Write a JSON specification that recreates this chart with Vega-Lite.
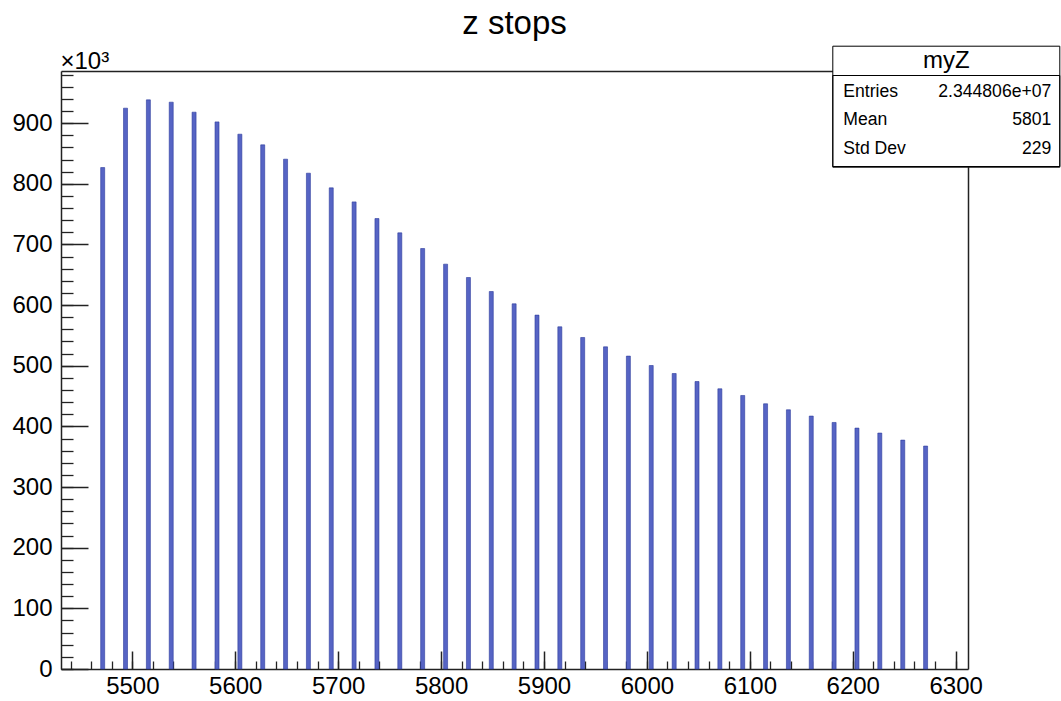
{
  "$schema": "https://vega.github.io/schema/vega-lite/v6.json",
  "width": 907,
  "height": 598,
  "autosize": {"type": "none"},
  "padding": {"left": 61, "top": 71, "right": 93, "bottom": 32},
  "background": "white",
  "config": {"font": "Liberation Sans", "view": {"stroke": null}, "scale": {"continuousPadding": 0}},
  "title": {"text": "z stops", "fontSize": 33, "fontWeight": "normal", "color": "black", "anchor": "middle", "frame": "group", "offset": -22, "baseline": "alphabetic"},
  "datasets": {
    "hist": [
      {"z": 5471.2, "n": 826800}, {"z": 5493.4, "n": 924700}, {"z": 5515.6, "n": 938400},
      {"z": 5537.8, "n": 934600}, {"z": 5560.0, "n": 918100}, {"z": 5582.3, "n": 902100},
      {"z": 5604.5, "n": 881800}, {"z": 5626.7, "n": 864200}, {"z": 5648.9, "n": 840600},
      {"z": 5671.1, "n": 817500}, {"z": 5693.3, "n": 793300}, {"z": 5715.5, "n": 770200},
      {"z": 5737.7, "n": 742700}, {"z": 5759.9, "n": 719100}, {"z": 5782.1, "n": 693300},
      {"z": 5804.4, "n": 667500}, {"z": 5826.6, "n": 645500}, {"z": 5848.8, "n": 622400},
      {"z": 5871.0, "n": 602100}, {"z": 5893.2, "n": 583500}, {"z": 5915.4, "n": 564200},
      {"z": 5937.6, "n": 546600}, {"z": 5959.8, "n": 531200}, {"z": 5982.0, "n": 515900},
      {"z": 6004.2, "n": 500400}, {"z": 6026.5, "n": 487200}, {"z": 6048.7, "n": 474000},
      {"z": 6070.9, "n": 462000}, {"z": 6093.1, "n": 451000}, {"z": 6115.3, "n": 437300},
      {"z": 6137.5, "n": 427400}, {"z": 6159.7, "n": 417000}, {"z": 6181.9, "n": 406500},
      {"z": 6204.1, "n": 397200}, {"z": 6226.3, "n": 389000}, {"z": 6248.6, "n": 377400},
      {"z": 6270.8, "n": 367600}
    ],
    "stats": [
      {"stat": "Entries", "val": "2.344806e+07"},
      {"stat": "Mean", "val": "5801"},
      {"stat": "Std Dev", "val": "229"}
    ]
  },
  "layer": [
    {
      "data": {"name": "hist"},
      "mark": {"type": "point", "opacity": 0},
      "encoding": {
        "x": {"field": "z", "type": "quantitative", "scale": {"domain": [5430.7, 6312], "nice": false, "zero": false, "padding": 0},
          "axis": {"orient": "bottom", "values": [5440,5460,5480,5500,5520,5540,5560,5580,5600,5620,5640,5660,5680,5700,5720,5740,5760,5780,5800,5820,5840,5860,5880,5900,5920,5940,5960,5980,6000,6020,6040,6060,6080,6100,6120,6140,6160,6180,6200,6220,6240,6260,6280,6300],
            "tickSize": -8, "labels": false, "domain": false, "title": null, "tickColor": "#222", "tickWidth": 1.3, "grid": false}},
        "y": {"field": "n", "type": "quantitative", "scale": {"domain": [0, 986000], "nice": false, "padding": 0},
          "axis": {"orient": "left", "values": [0,20000,40000,60000,80000,100000,120000,140000,160000,180000,200000,220000,240000,260000,280000,300000,320000,340000,360000,380000,400000,420000,440000,460000,480000,500000,520000,540000,560000,580000,600000,620000,640000,660000,680000,700000,720000,740000,760000,780000,800000,820000,840000,860000,880000,900000,920000,940000,960000,980000],
            "tickSize": -12, "labels": false, "domain": false, "title": null, "tickColor": "#222", "tickWidth": 1.3, "grid": false}}
      }
    },
    {
      "data": {"name": "hist"},
      "mark": {"type": "point", "opacity": 0},
      "encoding": {
        "x": {"field": "z", "type": "quantitative",
          "axis": {"orient": "top", "ticks": false, "labels": false, "domain": true, "domainColor": "#222", "domainWidth": 1.5, "title": null, "grid": false}},
        "y": {"field": "n", "type": "quantitative",
          "axis": {"orient": "right", "ticks": false, "labels": false, "domain": true, "domainColor": "#222", "domainWidth": 1.5, "title": null, "grid": false}}
      }
    },
    {
      "data": {"name": "hist"},
      "mark": {"type": "bar", "size": 4, "fill": "#5664c4", "stroke": "#2c3a9c", "strokeWidth": 0.6},
      "encoding": {
        "x": {"field": "z", "type": "quantitative", "scale": {"padding": 0},
          "axis": {"orient": "bottom", "values": [5500,5600,5700,5800,5900,6000,6100,6200,6300], "format": "d",
            "tickSize": -18, "tickColor": "#222", "tickWidth": 1.5, "labelPadding": 23, "labelFontSize": 24, "labelColor": "black",
            "labelFlush": false, "labelOverlap": false, "domain": true, "domainColor": "#222", "domainWidth": 1.5, "title": null, "grid": false}},
        "y": {"field": "n", "type": "quantitative",
          "axis": {"orient": "left", "values": [0,100000,200000,300000,400000,500000,600000,700000,800000,900000],
            "labelExpr": "format(datum.value/1000, 'd')",
            "tickSize": -27, "tickColor": "#222", "tickWidth": 1.5, "labelPadding": 36, "labelFontSize": 24, "labelColor": "black",
            "labelFlush": false, "labelOverlap": false, "domain": true, "domainColor": "#222", "domainWidth": 1.5, "grid": false,
            "title": "×10³", "titleAngle": 0, "titleX": -1, "titleY": -3, "titleAlign": "left", "titleBaseline": "alphabetic",
            "titleFontSize": 24, "titleFontWeight": "normal", "titleColor": "black"}}
      }
    },
    {
      "data": {"name": "stats"},
      "mark": {"type": "point", "opacity": 0},
      "encoding": {
        "fill": {"field": "stat", "type": "nominal", "scale": {"domain": ["Entries", "Mean", "Std Dev"], "range": ["black"]},
          "legend": {"orient": "none", "legendX": 771.3, "legendY": -25.3, "title": "myZ", "titleFontSize": 24, "titleFontWeight": "normal",
            "titleColor": "black", "titleAnchor": "middle", "titleBaseline": "line-top", "titleLineHeight": 23.3, "titlePadding": 16,
            "labelExpr": "'.'", "labelFontSize": 17.6, "labelOpacity": 0, "labelAlign": "right", "labelOffset": 203.4,
            "symbolOpacity": 0, "symbolSize": 1, "padding": 3, "rowPadding": 9.5,
            "strokeColor": "black", "fillColor": "white", "zindex": 5}},
        "shape": {"field": "val", "type": "nominal", "sort": ["2.344806e+07", "5801", "229"],
          "legend": {"orient": "none", "legendX": 771.3, "legendY": 4, "title": null, "labelFontSize": 17.6, "labelColor": "black",
            "labelAlign": "right", "labelOffset": 193.4, "symbolOpacity": 0, "symbolSize": 1, "padding": 8, "rowPadding": 9.5,
            "strokeColor": "black", "zindex": 6}},
        "stroke": {"field": "stat", "type": "nominal", "scale": {"range": ["black"]},
          "legend": {"orient": "none", "legendX": 771.3, "legendY": 4, "title": null, "labelFontSize": 17.6, "labelColor": "black",
            "labelOffset": -14.6, "symbolOpacity": 0, "symbolSize": 1, "padding": 8, "rowPadding": 9.5, "zindex": 7}}
      }
    }
  ],
  "resolve": {"axis": {"x": "independent", "y": "independent"}}
}
